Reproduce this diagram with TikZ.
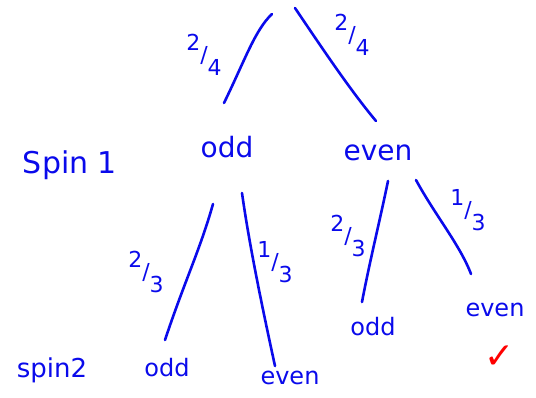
\documentclass[tikz,border=0pt]{standalone}
\usepackage{fontspec}
\setmainfont{DejaVu Sans}
\usetikzlibrary{positioning}

\definecolor{ink}{RGB}{10,10,235}
\newcommand{\frc}[2]{\raisebox{.55em}{#1}/\raisebox{-.6em}{#2}}

\tikzset{
  lvl/.style={inner sep=0pt, text=ink, font=\fontsize{28}{30}\selectfont},
  leaf/.style={inner sep=0pt, text=ink, font=\fontsize{24}{26}\selectfont},
  prob/.style={inner sep=0pt, text=ink, font=\fontsize{22}{24}\selectfont},
  branch/.style={draw=ink, line width=2.6pt, line cap=round}
}

\begin{document}
\begin{tikzpicture}[x=1pt, y=-1pt]
\useasboundingbox (0,0) rectangle (536,398);

\node[lvl, font=\fontsize{30}{32}\selectfont] (spinA) at (70,165) {Spin 1};
\node[leaf, font=\fontsize{26}{28}\selectfont] (spinB) at (52,370) {spin2};

\node[lvl] (odd) at (227,147) {odd};
\node[lvl] (even) at (378,153) {even};

\node[leaf] (oddodd) at (167,368) {odd};
\node[leaf] (oddeven) at (290,378) {even};
\node[leaf] (evenodd) at (373,327) {odd};
\node[leaf] (eveneven) at (495,310) {even};
\node[inner sep=0pt, text=red, font=\fontsize{36}{38}\selectfont] (tick) at (500,357) {✓};

% branch ends
\coordinate (rootL) at (272,14);
\coordinate (rootR) at (295,8);
\coordinate (oddT) at (224,103);
\coordinate (evenT) at (376,121);
\coordinate (oddL) at (213,204);
\coordinate (oddR) at (242,193);
\coordinate (evenL) at (388,181);
\coordinate (evenR) at (416,180);
\coordinate (ooT) at (165,340);
\coordinate (oeT) at (275,366);
\coordinate (eoT) at (362,302);
\coordinate (eeT) at (471,274);

\draw[branch] (rootL) .. controls (255,30) and (245,60) .. (oddT);
\draw[branch] (rootR) .. controls (320,45) and (350,90) .. (evenT);
\draw[branch] (oddL) .. controls (200,250) and (185,280) .. (ooT);
\draw[branch] (oddR) .. controls (250,250) and (265,320) .. (oeT);
\draw[branch] (evenL) .. controls (380,220) and (370,260) .. (eoT);
\draw[branch] (evenR) .. controls (435,215) and (460,245) .. (eeT);

\node[prob] (pA) at (204,55) {\frc{2}{4}};
\node[prob] (pB) at (352,35) {\frc{2}{4}};
\node[prob] (pC) at (146,272) {\frc{2}{3}};
\node[prob] (pD) at (275,262) {\frc{1}{3}};
\node[prob] (pE) at (348,236) {\frc{2}{3}};
\node[prob] (pF) at (468,210) {\frc{1}{3}};
\end{tikzpicture}
\end{document}
